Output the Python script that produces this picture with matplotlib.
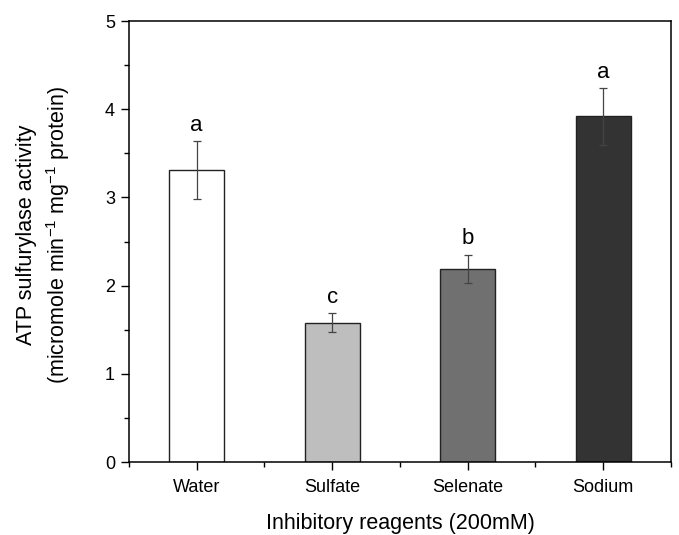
import numpy as np
import matplotlib.pyplot as plt
from matplotlib.ticker import MultipleLocator, FixedLocator

plt.rcParams['font.family'] = ['Liberation Sans', 'DejaVu Sans']

# data
categories = ['Water', 'Sulfate', 'Selenate', 'Sodium']
activity = [3.31, 1.58, 2.19, 3.92]
errors = [0.33, 0.11, 0.16, 0.32]
letters = ['a', 'c', 'b', 'a']
bar_colors = ['#ffffff', '#bebebe', '#707070', '#333333']

fig = plt.figure(figsize=(6.79, 5.35), dpi=100)
ax = fig.add_axes([0.19, 0.1364, 0.798, 0.8243])

x = np.arange(len(categories))
ax.bar(x, activity, width=0.405, color=bar_colors, edgecolor='#222222', linewidth=1.0, zorder=2)
ax.errorbar(x, activity, yerr=errors, fmt='none', ecolor='#444444',
            elinewidth=0.9, capsize=3, capthick=0.9, zorder=3)

# significance letters above the error bars
for xi, v, e, lab in zip(x, activity, errors, letters):
    ax.text(xi, v + e + 0.06, lab, ha='center', va='bottom', fontsize=16)

ax.set_xlim(-0.5, 3.5)
ax.set_ylim(0, 5)
ax.set_xticks(x)
ax.set_xticklabels(categories, fontsize=13)
ax.xaxis.set_minor_locator(FixedLocator(np.arange(-0.5, 4.0, 1.0)))
ax.yaxis.set_major_locator(MultipleLocator(1))
ax.yaxis.set_minor_locator(MultipleLocator(0.5))
ax.tick_params(axis='y', labelsize=13, pad=4)
ax.tick_params(which='major', direction='out', length=6, width=1.0)
ax.tick_params(which='minor', direction='out', length=3.5, width=1.0)
ax.tick_params(axis='x', which='major', pad=6)

for s in ax.spines.values():
    s.set_linewidth(1.1)

# axis titles placed in figure coordinates
fig.text(400 / 679, 1 - 524 / 535, 'Inhibitory reagents (200mM)',
         fontsize=15.5, ha='center', va='center')
fig.text(44 / 679, 1 - 235 / 535,
         'ATP sulfurylase activity\n(micromole min$^{\\mathregular{-1}}$ mg$^{\\mathregular{-1}}$ protein)',
         fontsize=15.5, rotation=90, ha='center', va='center',
         multialignment='center', linespacing=1.3)

fig.savefig('out.png', dpi=100, facecolor='white')
